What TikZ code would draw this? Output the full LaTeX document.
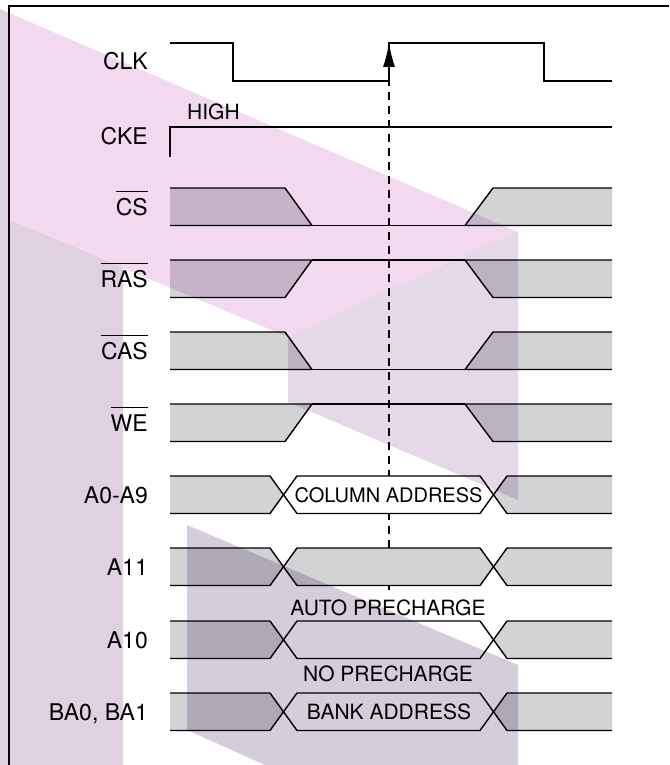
\documentclass[tikz,border=0pt]{standalone}
\usepackage{fontspec}
\setmainfont{TeX Gyre Heros}
\usetikzlibrary{arrows.meta}

\definecolor{dcgray}{HTML}{D1D3D4}
\definecolor{pinkface}{HTML}{F2D9F0}
\definecolor{sideface}{HTML}{DFD1DF}
\definecolor{frontface}{HTML}{E5D9E7}
\definecolor{lowface}{HTML}{D6CDDB}

% bar over an active-low signal name
\newcommand{\actlow}[1]{\vbox{\hrule height 1.2pt\kern 6pt\hbox{#1}}}

\tikzset{
  wave/.style={line width=1.4pt, line join=round},
  dontcare/.style={wave, fill=dcgray},
  signame/.style={anchor=base east, inner sep=0pt, font=\fontsize{23}{27}\selectfont},
  busname/.style={inner sep=0pt, font=\fontsize{21}{25}\selectfont},
  face/.style={blend mode=multiply}
}

\begin{document}
\begin{tikzpicture}[x=1pt, y=-1pt, >=Latex]
\useasboundingbox (0,0) rectangle (669,765);

% frame
\draw[line width=2pt] (9,765) -- (9,6) -- (669,6);

% signal names
\node[signame] (clk) at (148,70) {CLK};
\node[signame] (cke) at (148,144) {CKE};
\node[signame] (cs) at (148,215) {\actlow{CS}};
\node[signame] (ras) at (148,287) {\actlow{RAS}};
\node[signame] (cas) at (148,359) {\actlow{CAS}};
\node[signame] (we) at (148,431) {\actlow{WE}};
\node[signame] (addr) at (148,503) {A0-A9};
\node[signame] (aeleven) at (148,575) {A11};
\node[signame] (aten) at (148,648) {A10};
\node[signame] (bank) at (148,720) {BA0, BA1};

% reference edge
\coordinate (rise) at (389,43);
\coordinate (refend) at (389,590);
\draw[->, line width=1.2pt, dash pattern=on 8pt off 6pt, >={Latex[length=24pt,width=12pt]}] (refend) -- (rise);

% CLK and CKE
\draw[wave, line join=miter] (170,43) -- (233,43) -- (233,81) -- (389,81) -- (389,43) -- (544,43) -- (544,81) -- (612,81);
\draw[wave, line join=miter] (170,157) -- (170,127) -- (612,127);
\node[busname, anchor=base west] (high) at (187,120) {HIGH};

% CS, CAS low for the command
\foreach \t in {188,332}{
  \draw[dontcare] (170,\t) -- (285,\t) -- (312,\t+37.5) -- (170,\t+37.5);
  \draw[dontcare] (612,\t) -- (493,\t) -- (465,\t+37.5) -- (612,\t+37.5);
  \draw[wave] (312,\t+37.5) -- (465,\t+37.5);
}
% RAS, WE high for the command
\foreach \t in {260,404}{
  \draw[dontcare] (170,\t+37.5) -- (285,\t+37.5) -- (312,\t) -- (170,\t);
  \draw[dontcare] (612,\t+37.5) -- (493,\t+37.5) -- (465,\t) -- (612,\t);
  \draw[wave] (312,\t) -- (465,\t);
}

% address lines
\foreach \t/\midfill in {476/white, 548/dcgray, 621/white, 693/white}{
  \draw[dontcare] (170,\t) -- (270,\t) -- (283.5,\t+18.75) -- (270,\t+37.5) -- (170,\t+37.5);
  \draw[wave, fill=\midfill] (283.5,\t+18.75) -- (297,\t) -- (480,\t) -- (493.5,\t+18.75) -- (480,\t+37.5) -- (297,\t+37.5) -- cycle;
  \draw[dontcare] (612,\t) -- (507,\t) -- (493.5,\t+18.75) -- (507,\t+37.5) -- (612,\t+37.5);
}
\node[busname, font=\fontsize{20}{24}\selectfont] (coladdr) at (388.5,494.75) {COLUMN ADDRESS};
\node[busname] (autopre) at (388,607.5) {AUTO PRECHARGE};
\node[busname] (nopre) at (388,673.5) {NO PRECHARGE};
\node[busname] (bankaddr) at (389,711.5) {BANK ADDRESS};

% shaded faces over the diagram
\fill[face, sideface] (0,9) -- (9,13) -- (9,220) -- (123,268) -- (123,765) -- (0,765) -- cycle;
\fill[face, pinkface] (9,13) -- (518,232) -- (288,337) -- (123,268) -- (9,220) -- cycle;
\fill[face, frontface] (288,337) -- (518,232) -- (518,500) -- (288,402) -- cycle;
\fill[face, lowface] (187,525) -- (518,665) -- (518,765) -- (265,765) -- (187,730) -- cycle;
\end{tikzpicture}
\end{document}
